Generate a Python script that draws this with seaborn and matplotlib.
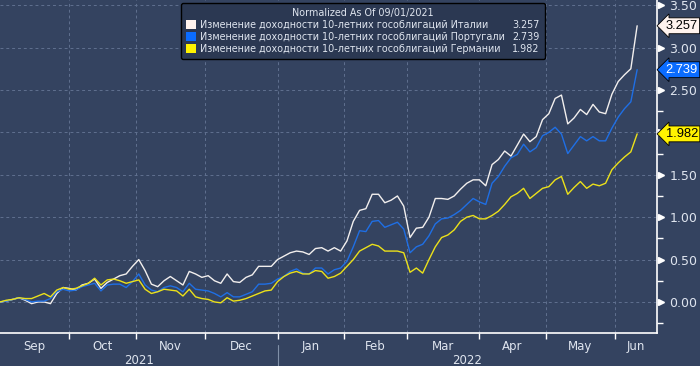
import numpy as np
import pandas as pd
import seaborn as sns
import matplotlib.pyplot as plt
import matplotlib.transforms as mtransforms
from matplotlib.patches import Patch
from matplotlib.lines import Line2D

# normalized yield changes, read every 2nd business day from 2021-09-01
italy = [0.00, 0.01, 0.03, 0.05, 0.02, -0.02, 0.00, 0.00, -0.02, 0.10,
         0.17, 0.16, 0.14, 0.20, 0.22, 0.27, 0.16, 0.23, 0.27, 0.31,
         0.33, 0.42, 0.50, 0.37, 0.21, 0.18, 0.25, 0.30, 0.25, 0.20,
         0.36, 0.33, 0.29, 0.31, 0.25, 0.22, 0.33, 0.24, 0.23, 0.29,
         0.32, 0.42, 0.42, 0.42, 0.50, 0.54, 0.58, 0.60, 0.59, 0.56,
         0.63, 0.64, 0.60, 0.64, 0.60, 0.72, 0.95, 1.08, 1.10, 1.27,
         1.27, 1.17, 1.20, 1.25, 1.13, 0.76, 0.87, 0.88, 1.00, 1.22,
         1.22, 1.21, 1.25, 1.33, 1.40, 1.44, 1.44, 1.37, 1.62, 1.68,
         1.78, 1.72, 1.85, 1.98, 1.89, 1.95, 2.15, 2.22, 2.40, 2.44,
         2.10, 2.17, 2.27, 2.21, 2.33, 2.24, 2.22, 2.45, 2.60, 2.68,
         2.75, 3.257]
portugal = [0.00, 0.01, 0.03, 0.05, 0.03, 0.00, 0.01, 0.01, 0.04, 0.12,
            0.15, 0.13, 0.14, 0.18, 0.20, 0.22, 0.13, 0.20, 0.21, 0.21,
            0.17, 0.24, 0.33, 0.20, 0.14, 0.12, 0.17, 0.19, 0.17, 0.12,
            0.22, 0.15, 0.14, 0.13, 0.10, 0.06, 0.11, 0.06, 0.06, 0.09,
            0.12, 0.21, 0.21, 0.22, 0.27, 0.30, 0.36, 0.39, 0.34, 0.33,
            0.40, 0.40, 0.33, 0.38, 0.40, 0.48, 0.65, 0.84, 0.83, 0.95,
            0.96, 0.88, 0.91, 0.94, 0.86, 0.58, 0.65, 0.68, 0.78, 0.92,
            0.98, 0.99, 1.03, 1.08, 1.15, 1.22, 1.18, 1.15, 1.40, 1.48,
            1.60, 1.70, 1.74, 1.86, 1.77, 1.82, 1.96, 2.00, 2.06, 1.98,
            1.75, 1.85, 1.95, 1.90, 1.95, 1.90, 1.90, 2.05, 2.18, 2.28,
            2.36, 2.739]
germany = [0.00, 0.02, 0.03, 0.05, 0.04, 0.04, 0.07, 0.10, 0.06, 0.14,
           0.17, 0.15, 0.16, 0.19, 0.22, 0.28, 0.20, 0.26, 0.27, 0.25,
           0.22, 0.24, 0.26, 0.15, 0.10, 0.12, 0.15, 0.14, 0.13, 0.07,
           0.15, 0.06, 0.04, 0.03, 0.00, -0.01, 0.05, 0.01, 0.02, 0.04,
           0.07, 0.10, 0.13, 0.14, 0.24, 0.30, 0.34, 0.36, 0.33, 0.33,
           0.37, 0.36, 0.28, 0.30, 0.34, 0.42, 0.50, 0.60, 0.64, 0.68,
           0.66, 0.60, 0.60, 0.60, 0.58, 0.35, 0.40, 0.34, 0.50, 0.65,
           0.76, 0.79, 0.85, 0.95, 1.00, 1.02, 0.98, 0.98, 1.02, 1.07,
           1.15, 1.24, 1.28, 1.34, 1.22, 1.28, 1.34, 1.36, 1.44, 1.48,
           1.27, 1.35, 1.42, 1.34, 1.39, 1.37, 1.40, 1.56, 1.64, 1.71,
           1.77, 1.982]

names = ["Изменение доходности 10-летних гособлигаций Италии",
         "Изменение доходности 10-летних гособлигаций Португали",
         "Изменение доходности 10-летних гособлигаций Германии"]
last_values = ["3.257", "2.739", "1.982"]
colors = ["#f2efee", "#1f6fe5", "#ece11a"]
box_colors = ["#fff3ee", "#0a6cff", "#fff200"]
box_text = ["black", "white", "black"]

bg = "#344360"
txt = "#dfe5ef"
grid_c = "#60708f"

bdays = pd.bdate_range("2021-09-01", "2022-06-10")
pos = np.arange(len(bdays))[::2]

df = pd.DataFrame({"pos": np.tile(pos, 3),
                   "val": italy + portugal + germany,
                   "series": np.repeat(names, len(pos))})

sns.set_theme(style="dark")
plt.rcParams["font.family"] = ["DejaVu Sans"]

fig = plt.figure(figsize=(7, 3.66), dpi=100, facecolor=bg)
ax = fig.add_axes([0.0, 0.0902, 0.9386, 0.9098])
ax.set_facecolor(bg)

sns.lineplot(data=df, x="pos", y="val", hue="series", palette=colors,
             hue_order=names, linewidth=1.0, legend=False, ax=ax)

xmax = 208.3
ax.set_xlim(0, xmax)
ax.set_ylim(-0.366, 3.561)

# month boundaries and centres
bounds = [i for i in range(1, len(bdays)) if bdays[i].month != bdays[i - 1].month]
edges = [0] + bounds + [xmax]
centres = [(edges[k] + edges[k + 1]) / 2 for k in range(len(edges) - 1)]
months = ["Sep", "Oct", "Nov", "Dec", "Jan", "Feb", "Mar", "Apr", "May", "Jun"]

ax.set_xticks(bounds)
ax.set_xticklabels([])
ax.set_xticks(centres, minor=True)
ax.set_xticklabels(months, minor=True)
ax.tick_params(axis="x", which="major", direction="out", length=4, width=1,
               color="white", bottom=True)
ax.tick_params(axis="x", which="minor", length=0, pad=5, labelsize=8.5,
               labelcolor=txt)

yt = np.arange(0, 3.51, 0.5)
ax.yaxis.tick_right()
ax.set_yticks(yt)
ax.set_yticks(np.arange(-0.25, 3.5, 0.5), minor=True)
# 2.00 sits under the Germany value box in the original
ax.set_yticklabels(["" if abs(v - 2.0) < 1e-9 else "%.2f" % v for v in yt])
ax.tick_params(axis="y", which="major", length=0, pad=9, labelsize=9,
               labelcolor=txt, right=True)
ax.tick_params(axis="y", which="minor", direction="out", length=4, width=1,
               color="white", right=True)

# arrow-shaped major y ticks
tr_y = mtransforms.blended_transform_factory(ax.transAxes, ax.transData)
ax.plot([1.006] * len(yt), yt, linestyle="none", marker=">",
        markersize=5, color="white", transform=tr_y, clip_on=False)

ax.grid(True, which="major", axis="both", color=grid_c, linestyle=(0, (3, 3)),
        linewidth=0.7)
ax.set_xlabel("")
ax.set_ylabel("")

for s in ["left", "top"]:
    ax.spines[s].set_visible(False)
for s in ["right", "bottom"]:
    ax.spines[s].set_color("white")
    ax.spines[s].set_linewidth(1.2)

# year labels
tr_x = mtransforms.blended_transform_factory(ax.transData, ax.transAxes)
ax.text(bounds[3] / 2, -0.082, "2021", transform=tr_x,
        ha="center", va="center", color=txt, fontsize=8.5)
ax.text((bounds[3] + xmax) / 2, -0.082, "2022", transform=tr_x,
        ha="center", va="center", color=txt, fontsize=8.5)
ax.plot([bounds[3], bounds[3]], [-0.037, -0.1], color="#8090a8", lw=0.8,
        transform=tr_x, clip_on=False)

# last value boxes
for series, lv, bc, tc in zip([italy, portugal, germany], last_values,
                              box_colors, box_text):
    ax.text(1.013, series[-1], lv, transform=tr_y, ha="left", va="center",
            fontsize=9.3, color=tc, zorder=5, family="Liberation Sans",
            bbox=dict(boxstyle="larrow,pad=0.15", fc=bc, ec="black", lw=0.6))

# legend
handles = [Patch(facecolor=c, edgecolor="none") for c in box_colors]
handles += [Line2D([], [], alpha=0)] * 3
labels = names + last_values
leg = ax.legend(handles, labels, ncol=2, loc="upper left",
                bbox_to_anchor=(0.2755, 0.992), borderaxespad=0,
                title="Normalized As Of 09/01/2021", fontsize=6.9,
                title_fontsize=6.9, handlelength=1.0, handleheight=1.0,
                handletextpad=0.4, columnspacing=-0.6, labelspacing=0.2,
                frameon=True, facecolor="#2b3852", edgecolor="black",
                framealpha=1, borderpad=0.55)
leg.get_frame().set_linewidth(1.0)
for t in leg.get_texts():
    t.set_color(txt)
leg.get_title().set_color(txt)

fig.savefig("out.png", dpi=100, facecolor=bg)
